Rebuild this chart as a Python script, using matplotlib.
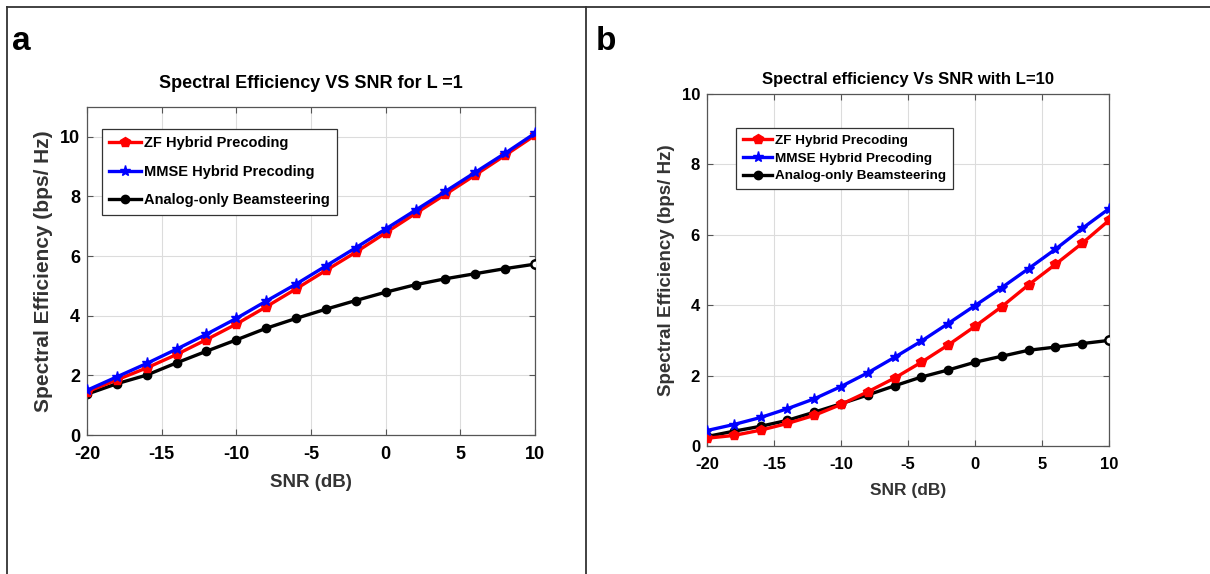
import matplotlib.pyplot as plt
from matplotlib.lines import Line2D

plt.rcParams["font.family"] = ["Liberation Sans", "DejaVu Sans"]
plt.rcParams["font.weight"] = "bold"
plt.rcParams["axes.labelweight"] = "bold"
plt.rcParams["axes.titleweight"] = "bold"
plt.rcParams["axes.unicode_minus"] = False

snr = [-20, -18, -16, -14, -12, -10, -8, -6, -4, -2, 0, 2, 4, 6, 8, 10]

# panel a, L = 1
zf_a = [1.45, 1.85, 2.25, 2.70, 3.20, 3.72, 4.30, 4.90, 5.52, 6.13, 6.78, 7.43, 8.07, 8.72, 9.38, 10.05]
mmse_a = [1.50, 1.95, 2.40, 2.88, 3.38, 3.91, 4.49, 5.06, 5.67, 6.28, 6.91, 7.54, 8.17, 8.81, 9.45, 10.12]
analog_a = [1.37, 1.72, 2.01, 2.42, 2.81, 3.19, 3.58, 3.91, 4.22, 4.51, 4.79, 5.04, 5.24, 5.41, 5.58, 5.73]

# panel b, L = 10
zf_b = [0.22, 0.30, 0.45, 0.64, 0.87, 1.18, 1.54, 1.93, 2.38, 2.87, 3.40, 3.96, 4.58, 5.16, 5.76, 6.41]
mmse_b = [0.44, 0.61, 0.81, 1.06, 1.34, 1.69, 2.08, 2.52, 2.98, 3.48, 3.99, 4.50, 5.04, 5.59, 6.18, 6.74]
analog_b = [0.27, 0.42, 0.56, 0.73, 0.96, 1.20, 1.45, 1.71, 1.96, 2.16, 2.38, 2.55, 2.72, 2.81, 2.91, 3.00]

labels = ["ZF Hybrid Precoding", "MMSE Hybrid Precoding", "Analog-only Beamsteering"]
xticks = [-20, -15, -10, -5, 0, 5, 10]

W, H = 1210, 574
fig = plt.figure(figsize=(W / 100, H / 100), dpi=100)


def px_axes(left, top, right, bottom):
    return fig.add_axes([left / W, 1 - bottom / H, (right - left) / W, (bottom - top) / H])


def draw_panel(ax, zf, mmse, analog, ymax, title, sizes, legend_anchor, leg_size, leg_space):
    tick_size, xlabel_size, ylabel_size, title_size, title_pad = sizes
    ax.plot(snr, zf, color="#ff0000", lw=2.4, marker="p", ms=7, label=labels[0], zorder=3)
    ax.plot(snr, mmse, color="#0000ff", lw=2.4, marker="*", ms=8, label=labels[1], zorder=4)
    ax.plot(snr, analog, color="black", lw=2.4, marker="o", ms=6, label=labels[2], zorder=2)
    ax.plot(snr[-1:], analog[-1:], ls="none", marker="o", ms=6, mfc="white",
            mec="black", mew=1.8, zorder=5)
    ax.set_xlim(-20, 10)
    ax.set_ylim(0, ymax)
    ax.set_xticks(xticks)
    ax.set_yticks(range(0, 11, 2))
    ax.grid(True, color="#dcdcdc", lw=0.8)
    ax.set_axisbelow(True)
    ax.tick_params(direction="in", top=True, right=True, length=4,
                   labelsize=tick_size, color="#555555")
    ax.tick_params(axis="x", pad=8)
    ax.tick_params(axis="y", pad=5)
    for sp in ax.spines.values():
        sp.set_color("#555555")
        sp.set_linewidth(0.9)
    ax.set_title(title, fontsize=title_size, pad=title_pad)
    ax.set_xlabel("SNR (dB)", fontsize=xlabel_size, color="#333333", labelpad=8)
    ax.set_ylabel("Spectral Efficiency (bps/ Hz)", fontsize=ylabel_size, color="#333333",
                  labelpad=5)
    leg = ax.legend(loc="upper left", bbox_to_anchor=legend_anchor, fontsize=leg_size,
                    handlelength=2.2, handletextpad=0.2, borderpad=0.5,
                    labelspacing=leg_space, fancybox=False, framealpha=1,
                    borderaxespad=0)
    leg.get_frame().set_edgecolor("#333333")
    leg.get_frame().set_linewidth(0.9)
    return ax


ax_a = px_axes(87, 107, 535, 435)
draw_panel(ax_a, zf_a, mmse_a, analog_a, 11, "Spectral Efficiency VS SNR for L =1",
           (13, 13.5, 15, 13, 14), ((102 - 87) / 448, (435 - 129) / 328), 10.5, 1.0)

ax_b = px_axes(707, 94, 1109, 446)
draw_panel(ax_b, zf_b, mmse_b, analog_b, 10, "Spectral efficiency Vs SNR with L=10",
           (12, 12.5, 13.5, 12, 7), ((736 - 707) / 402, (446 - 128) / 352), 9.7, 0.38)

# panel letters and outer frame
fig.text(12 / W, 1 - 50 / H, "a", fontsize=24, fontweight="bold")
fig.text(596 / W, 1 - 50 / H, "b", fontsize=24, fontweight="bold")
fig.add_artist(Line2D([7 / W, 7 / W], [0, 1 - 7 / H], color="#333333", lw=1.3))
fig.add_artist(Line2D([7 / W, 1], [1 - 7 / H, 1 - 7 / H], color="#333333", lw=1.3))
fig.add_artist(Line2D([586 / W, 586 / W], [0, 1 - 7 / H], color="#333333", lw=1.3))

fig.savefig("out.png", dpi=100, facecolor="white")
